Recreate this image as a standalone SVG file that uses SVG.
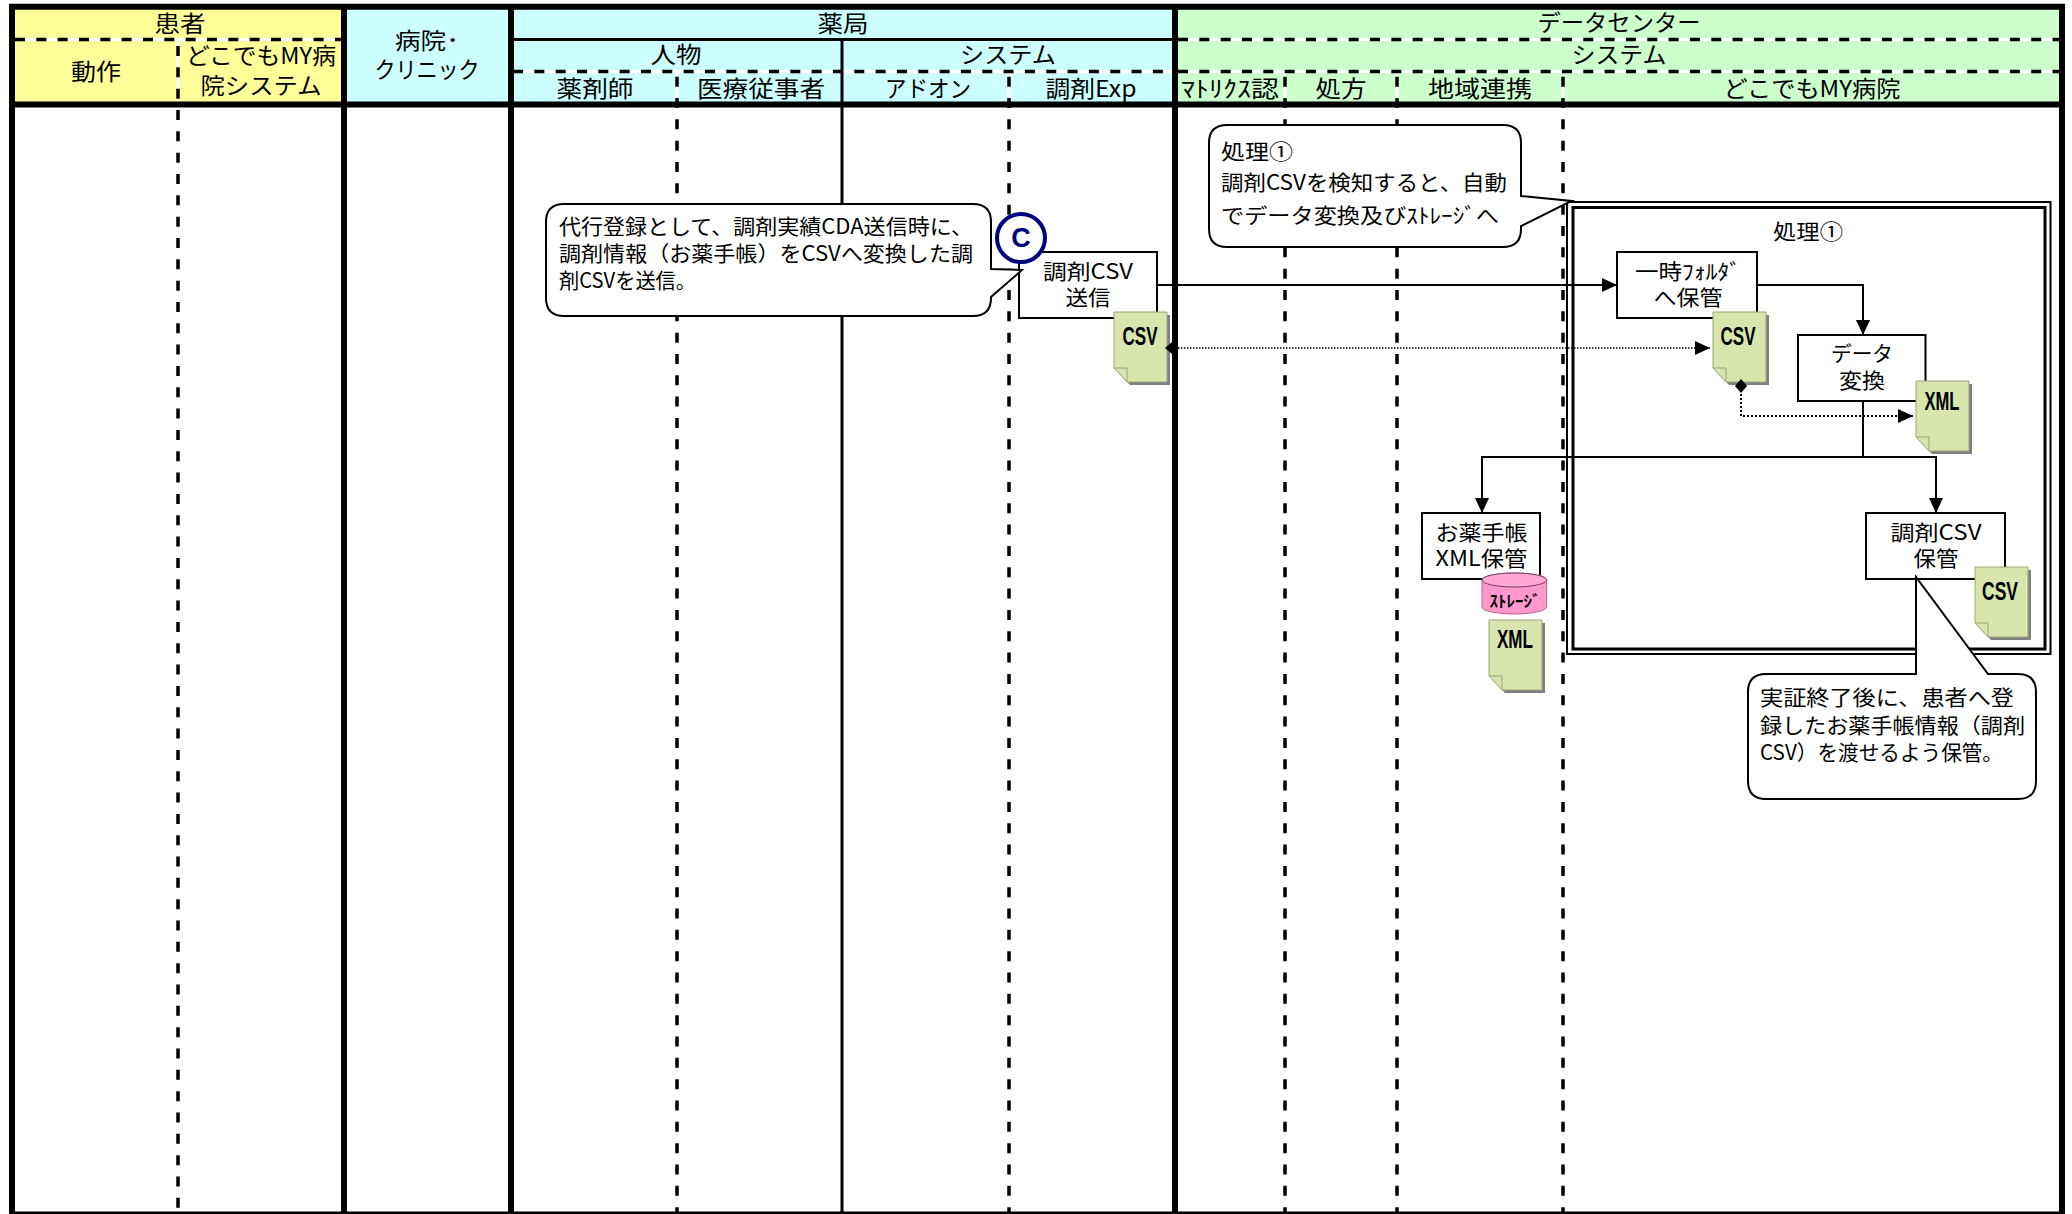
<svg xmlns="http://www.w3.org/2000/svg" width="2072" height="1214" viewBox="0 0 2072 1214">
<style>
text{font-family:"Noto Sans CJK JP","Liberation Sans",sans-serif;fill:#000;dominant-baseline:central;text-anchor:middle}
.h{font-size:23px}
.b{font-size:21px}
.c{font-size:21px;text-anchor:start}
.d{font-family:"Liberation Sans",sans-serif;font-weight:700;font-size:25px}
.thick{stroke:#000;stroke-width:6;fill:none}
.solid{stroke:#000;stroke-width:3;fill:none}
.under{stroke:#fff;stroke-width:3;fill:none}
.dash{stroke:#000;stroke-width:3.500;stroke-dasharray:10 11.330;fill:none}
.box{fill:#fff;stroke:#000;stroke-width:2}
.call{fill:#fff;stroke:#000;stroke-width:2}
.line{stroke:#000;stroke-width:2;fill:none}
.dot{stroke:#000;stroke-width:1.500;stroke-dasharray:1.500 1.500;fill:none}
.dot2{stroke:#000;stroke-width:2;stroke-dasharray:2 2;fill:none}
</style>
<defs>
<marker id="tri" markerUnits="userSpaceOnUse" markerWidth="15" markerHeight="14" refX="15" refY="7" orient="auto"><path d="M0 0L15 7L0 14Z" fill="#000"/></marker>
<marker id="dia" markerUnits="userSpaceOnUse" markerWidth="14" markerHeight="14" refX="7" refY="7" orient="auto"><path d="M0 7L7 1L14 7L7 13Z" fill="#000"/></marker>
<g id="doc">
<path d="M3 3H56V73H16L3 59Z" fill="#808080"/>
<path d="M0 0H53V70H13L0 56Z" fill="#D8E6AE" stroke="#9AA578" stroke-width="1"/>
<path d="M0 56H13V70" fill="none" stroke="#9AA578" stroke-width="1"/>
</g>
</defs>

<g id="swimlane">
<rect x="12" y="9" width="330" height="94" fill="#FFFF99"/>
<rect x="346" y="9" width="163" height="94" fill="#CCFFFF"/>
<rect x="513" y="9" width="660" height="94" fill="#CCFFFF"/>
<rect x="1177" y="9" width="883" height="94" fill="#CCFFCC"/>
<path class="under" d="M15 39.500H342M1178 39.500H2059M513 71.500H1173M1178 71.500H2059M178 40V103M677 72V103M1009 72V103M1285 72V103M1397 72V103M1563 72V103"/>
<path class="dash" d="M15 39.500H342M1178 39.500H2059M513 71.500H1173M1178 71.500H2059"/>
<path class="dash" d="M178 46V1212"/>
<path class="dash" style="stroke-dashoffset:-4.670" d="M677 72V1212M1009 72V1212M1285 72V1212M1397 72V1212M1563 72V1212"/>
<path class="solid" d="M513 39.500H1173M842 40V1212"/>
<path class="thick" d="M12 1214V6.800H2062V1214M9 104.500H2065M344 6V1214M511 6V1214M1175 6V1214"/>
<path stroke="#000" stroke-width="2.500" fill="none" d="M9 1212.800H2065"/>
<text class="h" x="180" y="22" textLength="51" lengthAdjust="spacingAndGlyphs">患者</text>
<text class="h" x="96" y="70" textLength="50" lengthAdjust="spacingAndGlyphs">動作</text>
<text class="h"><tspan x="261" y="54" textLength="150" lengthAdjust="spacingAndGlyphs">どこでもMY病</tspan><tspan x="261" y="84" textLength="121" lengthAdjust="spacingAndGlyphs">院システム</tspan></text>
<text class="h"><tspan x="427" y="39" textLength="64" lengthAdjust="spacingAndGlyphs">病院･</tspan><tspan x="427" y="68" textLength="105" lengthAdjust="spacingAndGlyphs">クリニック</tspan></text>
<text class="h" x="843" y="22" textLength="51" lengthAdjust="spacingAndGlyphs">薬局</text>
<text class="h" x="676" y="53" textLength="51" lengthAdjust="spacingAndGlyphs">人物</text>
<text class="h" x="1008" y="53" textLength="96" lengthAdjust="spacingAndGlyphs">システム</text>
<text class="h" x="595" y="87" textLength="77" lengthAdjust="spacingAndGlyphs">薬剤師</text>
<text class="h" x="761" y="87" textLength="128" lengthAdjust="spacingAndGlyphs">医療従事者</text>
<text class="h" x="928" y="87" textLength="86" lengthAdjust="spacingAndGlyphs">アドオン</text>
<text class="h" x="1091" y="87" textLength="91" lengthAdjust="spacingAndGlyphs">調剤Exp</text>
<text class="h" x="1230" y="87" textLength="98" lengthAdjust="spacingAndGlyphs">ﾏﾄﾘｸｽ認</text>
<text class="h" x="1341" y="87" textLength="51" lengthAdjust="spacingAndGlyphs">処方</text>
<text class="h" x="1480" y="87" textLength="104" lengthAdjust="spacingAndGlyphs">地域連携</text>
<text class="h" x="1812" y="87" textLength="177" lengthAdjust="spacingAndGlyphs">どこでもMY病院</text>
<text class="h" x="1619" y="21" textLength="163" lengthAdjust="spacingAndGlyphs">データセンター</text>
<text class="h" x="1619" y="53" textLength="95" lengthAdjust="spacingAndGlyphs">システム</text>
</g>

<g id="frame-shori1">
<rect x="1567" y="202" width="483.500" height="452" fill="none" stroke="#000" stroke-width="2"/>
<rect x="1573" y="207.500" width="472" height="441.500" fill="none" stroke="#000" stroke-width="3"/>
<text class="b" x="1808" y="230" textLength="70" lengthAdjust="spacingAndGlyphs">処理①</text>
</g>

<g id="connectors">
<path class="line" marker-end="url(#tri)" d="M1157 285H1617"/>
<path class="line" marker-end="url(#tri)" d="M1757 285H1863V335"/>
<path class="line" d="M1863 400V457"/>
<path class="line" marker-end="url(#tri)" d="M1863 457H1482V513"/>
<path class="line" marker-end="url(#tri)" d="M1863 457H1936V513"/>
</g>

<g id="n-send">
<rect class="box" x="1019" y="252" width="138" height="66"/>
<text class="b" x="1088" y="270" textLength="90" lengthAdjust="spacingAndGlyphs">調剤CSV</text>
<text class="b" x="1088" y="296" textLength="45" lengthAdjust="spacingAndGlyphs">送信</text>
</g>
<g id="n-temp">
<rect class="box" x="1617" y="252" width="140" height="66"/>
<text class="b" x="1688" y="270" textLength="106" lengthAdjust="spacingAndGlyphs">一時ﾌｫﾙﾀﾞ</text>
<text class="b" x="1688" y="296" textLength="69" lengthAdjust="spacingAndGlyphs">へ保管</text>
</g>
<g id="n-convert">
<rect class="box" x="1798" y="335" width="127.500" height="66"/>
<text class="b" x="1862" y="352" textLength="62" lengthAdjust="spacingAndGlyphs">データ</text>
<text class="b" x="1862" y="379" textLength="46" lengthAdjust="spacingAndGlyphs">変換</text>
</g>
<g id="n-xmlstore">
<rect class="box" x="1422" y="513" width="118" height="66"/>
<text class="b" x="1481.500" y="531" textLength="92" lengthAdjust="spacingAndGlyphs">お薬手帳</text>
<text class="b" x="1481.500" y="557" textLength="92" lengthAdjust="spacingAndGlyphs">XML保管</text>
</g>
<g id="n-csvstore">
<rect class="box" x="1866" y="513" width="139" height="66"/>
<text class="b" x="1936" y="531" textLength="91" lengthAdjust="spacingAndGlyphs">調剤CSV</text>
<text class="b" x="1936" y="557" textLength="45" lengthAdjust="spacingAndGlyphs">保管</text>
</g>

<g id="doc-csv1"><use href="#doc" x="1114" y="312"/><text class="d" x="1140" y="336" textLength="35" lengthAdjust="spacingAndGlyphs">CSV</text></g>
<g id="doc-csv2"><use href="#doc" x="1713" y="312"/><text class="d" x="1738" y="336" textLength="35" lengthAdjust="spacingAndGlyphs">CSV</text></g>
<g id="doc-xml1"><use href="#doc" x="1916" y="381"/><text class="d" x="1942" y="401" textLength="35" lengthAdjust="spacingAndGlyphs">XML</text></g>
<g id="doc-csv3"><use href="#doc" x="1975" y="567"/><text class="d" x="2000" y="591" textLength="36" lengthAdjust="spacingAndGlyphs">CSV</text></g>
<g id="doc-xml2"><use href="#doc" x="1489" y="620"/><text class="d" x="1515" y="639" textLength="36" lengthAdjust="spacingAndGlyphs">XML</text></g>
<g id="storage">
<path d="M1482 580A32.300 7 0 0 1 1546.600 580V607A32.300 7 0 0 1 1482 607Z" fill="#FF99CC" stroke="#C06090" stroke-width="1"/>
<ellipse cx="1514.300" cy="580" rx="32.300" ry="7" fill="#FFA8D4" stroke="#704060" stroke-width="1"/>
<text x="1515" y="600" font-size="16" font-weight="700" textLength="51" lengthAdjust="spacingAndGlyphs">ｽﾄﾚｰｼﾞ</text>
</g>

<g id="connectors-dotted">
<path class="dot" marker-start="url(#dia)" marker-end="url(#tri)" d="M1172 348H1710"/>
<path class="dot2" marker-start="url(#dia)" marker-end="url(#tri)" d="M1741 386V416H1913"/>
</g>

<g id="callout-1">
<path class="call" d="M564 204H973Q991 204 991 222V269L1022 270L991 297V298Q991 316 973 316H564Q546 316 546 298V222Q546 204 564 204Z"/>
<text class="c" x="559" y="225" textLength="414" lengthAdjust="spacingAndGlyphs">代行登録として、調剤実績CDA送信時に、</text>
<text class="c" x="559" y="252" textLength="414" lengthAdjust="spacingAndGlyphs">調剤情報（お薬手帳）をCSVへ変換した調</text>
<text class="c" x="559" y="279" textLength="137" lengthAdjust="spacingAndGlyphs">剤CSVを送信。</text>
</g>
<g id="callout-2">
<path class="call" d="M1227 125H1503Q1521 125 1521 143V196L1571.500 201L1521 226V229Q1521 247 1503 247H1227Q1209 247 1209 229V143Q1209 125 1227 125Z"/>
<text class="c" x="1221" y="150" textLength="72" lengthAdjust="spacingAndGlyphs">処理①</text>
<text class="c" x="1221" y="181" textLength="286" lengthAdjust="spacingAndGlyphs">調剤CSVを検知すると、自動</text>
<text class="c" x="1221" y="214" textLength="278" lengthAdjust="spacingAndGlyphs">でデータ変換及びｽﾄﾚｰｼﾞへ</text>
</g>
<g id="callout-3">
<path class="call" d="M1766 674H1916V577L1988 674H2018Q2036 674 2036 692V781Q2036 799 2018 799H1766Q1748 799 1748 781V692Q1748 674 1766 674Z"/>
<text class="c" x="1760" y="696" textLength="254" lengthAdjust="spacingAndGlyphs">実証終了後に、患者へ登</text>
<text class="c" x="1760" y="724" textLength="265" lengthAdjust="spacingAndGlyphs">録したお薬手帳情報（調剤</text>
<text class="c" x="1760" y="751" textLength="243" lengthAdjust="spacingAndGlyphs">CSV）を渡せるよう保管。</text>
</g>
<g id="marker-c">
<circle cx="1021" cy="238" r="24" fill="#fff" stroke="#000080" stroke-width="4"/>
<text x="1021" y="238" font-size="27" font-weight="700" style="font-family:'Liberation Sans',sans-serif;fill:#000080">C</text>
</g>
</svg>
